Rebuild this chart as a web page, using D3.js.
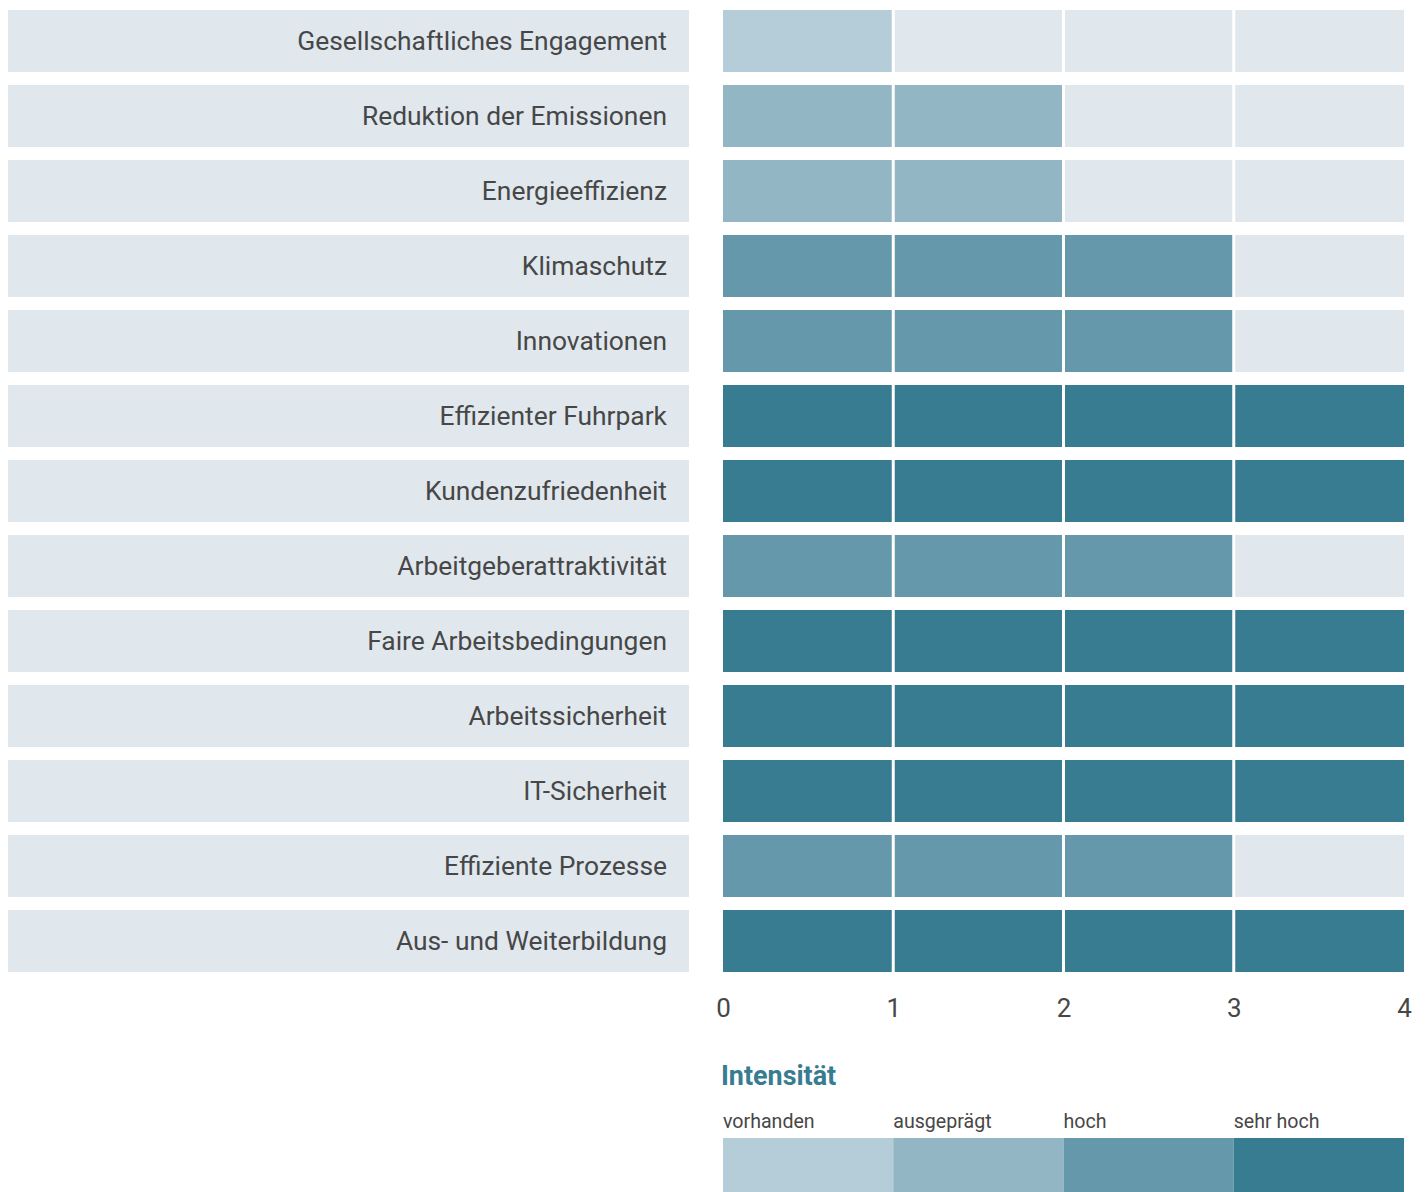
<!DOCTYPE html>
<html>
<head>
<meta charset="utf-8">
<script src="https://cdn.jsdelivr.net/npm/d3@7"></script>
<style>
  body { margin: 0; background: #fff; }
  text { font-family: Roboto, "Noto Sans", sans-serif; }
</style>
</head>
<body>
<div id="chart-area"></div>
<script>
// Data
var categories = [
    "Gesellschaftliches Engagement",
    "Reduktion der Emissionen",
    "Energieeffizienz",
    "Klimaschutz",
    "Innovationen",
    "Effizienter Fuhrpark",
    "Kundenzufriedenheit",
    "Arbeitgeberattraktivität",
    "Faire Arbeitsbedingungen",
    "Arbeitssicherheit",
    "IT-Sicherheit",
    "Effiziente Prozesse",
    "Aus- und Weiterbildung"
];
var values = [1, 2, 2, 3, 3, 4, 4, 3, 4, 4, 4, 3, 4];
var levelNames = ["vorhanden", "ausgeprägt", "hoch", "sehr hoch"];
var levelColors = ["#b5cdd8", "#93b6c5", "#6698ab", "#377c91"];
var tickValues = [0, 1, 2, 3, 4];

var width = 1425, height = 1192;

var svg = d3.select("#chart-area")
    .append("svg")
    .attr("width", width)
    .attr("height", height);

// SCALES
var y = d3.scaleBand()
    .domain(categories)
    .range([10, 972])
    .paddingInner(13 / 75)
    .paddingOuter(0);

var x = d3.scaleLinear()
    .domain([0, 4])
    .range([723, 1404]);

var color = d3.scaleOrdinal()
    .domain([1, 2, 3, 4])
    .range(levelColors);

var empty = "#e0e8ee";

// label boxes
var rows = svg.selectAll("g.row")
    .data(categories)
    .enter()
    .append("g")
    .attr("class", "row");

rows.append("rect")
    .attr("x", 8)
    .attr("y", (d) => y(d))
    .attr("width", 681)
    .attr("height", y.bandwidth())
    .attr("fill", empty);

rows.append("text")
    .attr("x", 667)
    .attr("y", (d) => y(d) + y.bandwidth() / 2)
    .attr("dy", "0.35em")
    .attr("text-anchor", "end")
    .attr("font-size", 26.4)
    .attr("fill", "#474747")
    .text((d) => d);

// cells, four per row
var cells = [];
categories.forEach((c, i) => {
    for (var k = 0; k < 4; k++) {
        cells.push({ cat: c, k: k, v: values[i] });
    }
});

svg.selectAll("rect.cell")
    .data(cells)
    .enter()
    .append("rect")
    .attr("class", "cell")
    .attr("x", (d) => x(d.k) + (d.k > 0 ? 1.5 : 0))
    .attr("y", (d) => y(d.cat))
    .attr("width", (d) => x(d.k + 1) - x(d.k) - (d.k > 0 ? 1.5 : 0) - (d.k < 3 ? 1.5 : 0))
    .attr("height", y.bandwidth())
    .attr("fill", (d) => d.k < d.v ? color(d.v) : empty);

// axis
var axis = d3.axisBottom(x)
    .tickValues(tickValues)
    .tickSize(0)
    .tickPadding(0)
    .tickFormat(d3.format("d"));

var gAxis = svg.append("g")
    .attr("transform", "translate(0,1008)")
    .call(axis);
gAxis.select(".domain").remove();
gAxis.selectAll("text")
    .attr("dy", "0.35em")
    .attr("y", 0)
    .attr("font-size", 26)
    .attr("font-family", "Roboto, sans-serif")
    .attr("fill", "#474747");

// legend
svg.append("text")
    .attr("x", 721)
    .attr("y", 1085)
    .attr("font-size", 26.9)
    .attr("font-weight", "bold")
    .attr("fill", "#377c91")
    .text("Intensität");

var legend = svg.selectAll("g.legend")
    .data(levelNames)
    .enter()
    .append("g")
    .attr("class", "legend");

legend.append("rect")
    .attr("x", (d, i) => x(i))
    .attr("y", 1138)
    .attr("width", (d, i) => x(i + 1) - x(i))
    .attr("height", 54)
    .attr("fill", (d, i) => levelColors[i]);

legend.append("text")
    .attr("x", (d, i) => x(i))
    .attr("y", 1128)
    .attr("font-size", 19.6)
    .attr("fill", "#474747")
    .text((d) => d);
</script>
</body>
</html>
